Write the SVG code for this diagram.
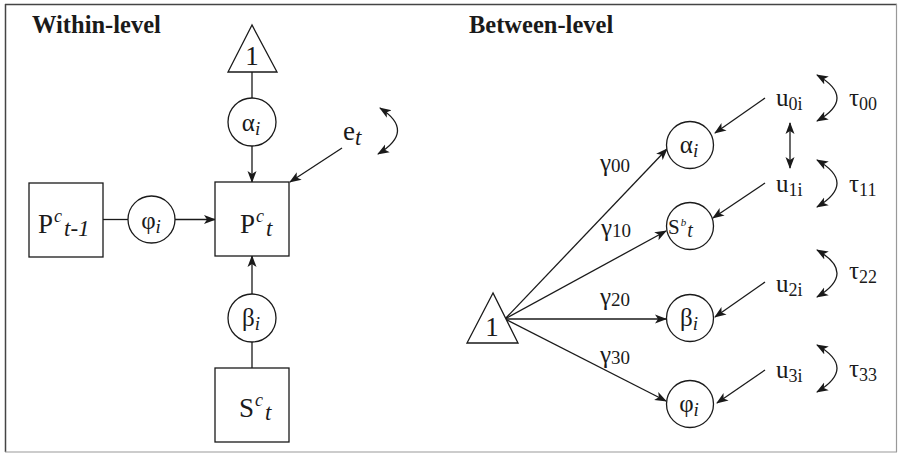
<svg xmlns="http://www.w3.org/2000/svg" width="900" height="454" viewBox="0 0 900 454">
<defs>
<marker id="ah" viewBox="0 0 12 10" refX="11" refY="5" markerWidth="12" markerHeight="10" markerUnits="userSpaceOnUse" orient="auto-start-reverse">
<path d="M0,0.5 L12,5 L0,9.5 L3,5 z" fill="#1a1a1a"/>
</marker>
</defs>
<style>
.bg{fill:#fff}
.node{fill:#fff;stroke:#1a1a1a;stroke-width:1.3}
.ln{fill:none;stroke:#1a1a1a;stroke-width:1.3}
.arr{fill:none;stroke:#1a1a1a;stroke-width:1.3;marker-end:url(#ah)}
.dbl{fill:none;stroke:#1a1a1a;stroke-width:1.3;marker-start:url(#ah);marker-end:url(#ah)}
text{font-family:"Liberation Serif","Times New Roman",serif;fill:#1a1a1a}
.title{font-size:24.5px;font-weight:bold}
.big{font-size:27px}
.gk{font-size:25px}
.sup{font-size:18px;font-style:italic}
.sub{font-size:23px;font-style:italic}
.si{font-size:19px;font-style:italic}
.g{font-size:25px}
.gs{font-size:19px}
.u{font-size:25px}
.us{font-size:18px}
</style>
<rect class="bg" x="0" y="0" width="900" height="454"/>
<g id="frame">
<line x1="5" y1="4.5" x2="897" y2="4.5" stroke="#444" stroke-width="1.5"/>
<line x1="5.5" y1="4" x2="5.5" y2="452" stroke="#444" stroke-width="1.5"/>
<line x1="5" y1="452" x2="897" y2="452" stroke="#999" stroke-width="1.2"/>
<line x1="896.5" y1="4" x2="896.5" y2="452" stroke="#999" stroke-width="1.2"/>
</g>
<text class="title" x="32" y="33">Within-level</text>
<text class="title" x="469" y="33">Between-level</text>

<g id="connectors">
<line class="ln" x1="252" y1="72" x2="252" y2="98"/>
<line class="arr" x1="252" y1="146" x2="252" y2="182"/>
<line class="ln" x1="103" y1="219.5" x2="128" y2="219.5"/>
<line class="arr" x1="175" y1="219.5" x2="215" y2="219.5"/>
<line class="arr" x1="252" y1="294" x2="252" y2="256"/>
<line class="ln" x1="252" y1="342" x2="252" y2="368"/>
<line class="arr" x1="342" y1="148" x2="290" y2="182"/>
<path class="dbl" d="M380,108 Q416,131 378,154"/>

<line class="arr" x1="505" y1="319" x2="667" y2="149"/>
<line class="arr" x1="505" y1="319" x2="666" y2="231"/>
<line class="arr" x1="505" y1="319" x2="666" y2="319"/>
<line class="arr" x1="505" y1="319" x2="666" y2="401"/>
<line class="arr" x1="765" y1="98" x2="715" y2="133"/>
<line class="arr" x1="765" y1="183" x2="713" y2="218"/>
<line class="arr" x1="765" y1="282" x2="715" y2="317"/>
<line class="arr" x1="765" y1="370" x2="717" y2="403"/>
<line class="dbl" x1="790" y1="123" x2="790" y2="168"/>
<path class="dbl" d="M817,75 Q857,98 817,121"/>
<path class="dbl" d="M817,160 Q857,183 817,207"/>
<path class="dbl" d="M817,250 Q857,273 817,297"/>
<path class="dbl" d="M817,345 Q857,368 817,392"/>
</g>

<g id="w_one">
<polygon class="node" points="252,25 228,72 277,72"/>
<text class="big" x="252" y="65" text-anchor="middle">1</text>
</g>
<g id="w_alpha">
<circle class="node" cx="252" cy="122" r="24"/>
<text class="gk" x="251" y="131" text-anchor="middle">α<tspan class="si" dy="4">i</tspan></text>
</g>
<g id="w_Pprev">
<rect class="node" x="29" y="183" width="74" height="74"/>
<text class="big" x="38" y="233">P<tspan class="sup" dy="-11" dx="1">c</tspan><tspan class="sub" dy="14" dx="2">t-1</tspan></text>
</g>
<g id="w_phi">
<circle class="node" cx="151.5" cy="219.5" r="23.5"/>
<text class="gk" x="151" y="229" text-anchor="middle">φ<tspan class="si" dy="4">i</tspan></text>
</g>
<g id="w_P">
<rect class="node" x="215" y="182" width="74" height="74"/>
<text class="big" x="240" y="233">P<tspan class="sup" dy="-11" dx="1">c</tspan><tspan class="sub" dy="14" dx="2">t</tspan></text>
</g>
<g id="w_e">
<text class="big" x="343" y="140">e<tspan class="sub" font-size="21" dy="5">t</tspan></text>
</g>
<g id="w_beta">
<circle class="node" cx="252" cy="318" r="24"/>
<text class="gk" x="251" y="326" text-anchor="middle">β<tspan class="si" dy="4">i</tspan></text>
</g>
<g id="w_S">
<rect class="node" x="215" y="368" width="74" height="74"/>
<text class="big" x="239" y="417">S<tspan class="sup" dy="-11" dx="1">c</tspan><tspan class="sub" dy="14" dx="2">t</tspan></text>
</g>

<g id="b_one">
<polygon class="node" points="493,293 467,343 518,343"/>
<text class="big" x="492" y="336" text-anchor="middle">1</text>
</g>
<g id="b_alpha">
<circle class="node" cx="690" cy="145" r="23.5"/>
<text class="gk" x="689" y="153" text-anchor="middle">α<tspan class="si" dy="4">i</tspan></text>
</g>
<g id="b_S">
<circle class="node" cx="690" cy="226" r="23.5"/>
<text x="668" y="234" font-size="21">S<tspan font-size="11" font-style="italic" dy="-8" dx="1">b</tspan><tspan font-size="20" font-style="italic" dy="11" dx="1">t</tspan></text>
</g>
<g id="b_beta">
<circle class="node" cx="690" cy="318" r="23.5"/>
<text class="gk" x="689" y="326" text-anchor="middle">β<tspan class="si" dy="4">i</tspan></text>
</g>
<g id="b_phi">
<circle class="node" cx="690" cy="404" r="23.5"/>
<text class="gk" x="689" y="412" text-anchor="middle">φ<tspan class="si" dy="4">i</tspan></text>
</g>

<g id="b_gammas">
<text class="g" x="600" y="171">γ<tspan class="gs" dy="1">00</tspan></text>
<text class="g" x="601" y="236">γ<tspan class="gs" dy="1">10</tspan></text>
<text class="g" x="600" y="305">γ<tspan class="gs" dy="1">20</tspan></text>
<text class="g" x="600" y="363">γ<tspan class="gs" dy="1">30</tspan></text>
</g>
<g id="b_u0"><text class="u" x="776" y="106">u<tspan class="us" dy="4">0i</tspan></text></g>
<g id="b_u1"><text class="u" x="776" y="192">u<tspan class="us" dy="4">1i</tspan></text></g>
<g id="b_u2"><text class="u" x="776" y="292">u<tspan class="us" dy="4">2i</tspan></text></g>
<g id="b_u3"><text class="u" x="776" y="378">u<tspan class="us" dy="4">3i</tspan></text></g>
<g id="b_tau0"><text class="u" x="849" y="106">τ<tspan class="us" dy="4">00</tspan></text></g>
<g id="b_tau1"><text class="u" x="849" y="192">τ<tspan class="us" dy="4">11</tspan></text></g>
<g id="b_tau2"><text class="u" x="849" y="279">τ<tspan class="us" dy="4">22</tspan></text></g>
<g id="b_tau3"><text class="u" x="849" y="377">τ<tspan class="us" dy="4">33</tspan></text></g>
</svg>
